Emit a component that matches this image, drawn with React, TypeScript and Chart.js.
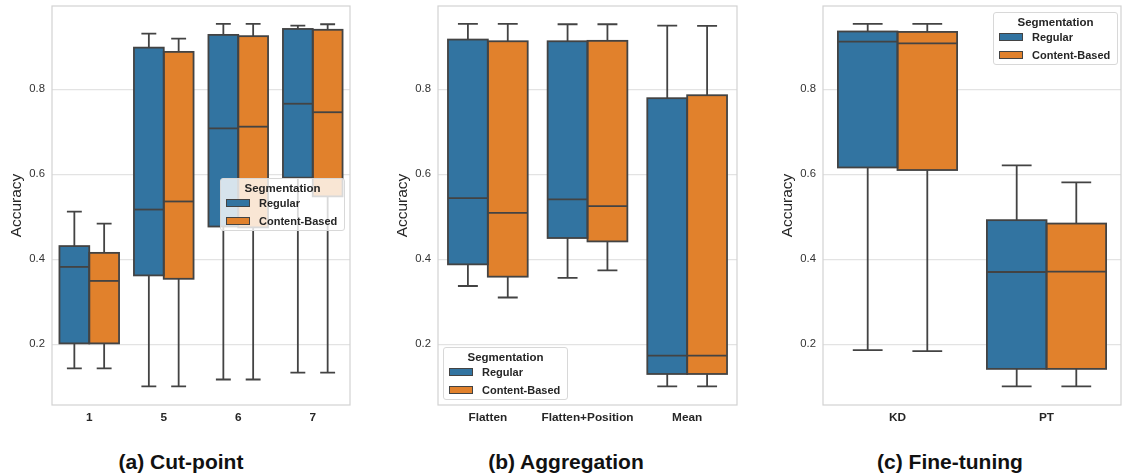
import React, { useEffect, useRef } from "react";
import { Chart, registerables } from "chart.js";

Chart.register(...registerables);

// ---------- data ----------
// each entry: [lower whisker, Q1, median, Q3, upper whisker]
const seriesNames = ["Regular", "Content-Based"];

const cutCategories = ["1", "5", "6", "7"];
const cutRegular = [
  [0.143, 0.202, 0.382, 0.431, 0.512],
  [0.101, 0.362, 0.517, 0.898, 0.931],
  [0.117, 0.477, 0.708, 0.928, 0.954],
  [0.133, 0.592, 0.766, 0.942, 0.95],
];
const cutContent = [
  [0.143, 0.202, 0.349, 0.415, 0.484],
  [0.101, 0.354, 0.536, 0.888, 0.919],
  [0.117, 0.475, 0.712, 0.925, 0.954],
  [0.133, 0.548, 0.746, 0.94, 0.953],
];

const aggCategories = ["Flatten", "Flatten+Position", "Mean"];
const aggRegular = [
  [0.337, 0.388, 0.544, 0.917, 0.954],
  [0.356, 0.45, 0.541, 0.913, 0.953],
  [0.101, 0.13, 0.173, 0.779, 0.95],
];
const aggContent = [
  [0.31, 0.359, 0.509, 0.913, 0.954],
  [0.374, 0.442, 0.525, 0.914, 0.953],
  [0.101, 0.13, 0.173, 0.786, 0.949],
];

const ftCategories = ["KD", "PT"];
const ftRegular = [
  [0.186, 0.616, 0.912, 0.936, 0.954],
  [0.101, 0.142, 0.37, 0.492, 0.621],
];
const ftContent = [
  [0.184, 0.61, 0.908, 0.935, 0.954],
  [0.101, 0.142, 0.371, 0.484, 0.581],
];

const yTickValues = [0.2, 0.4, 0.6, 0.8];
const captions = ["(a) Cut-point", "(b) Aggregation", "(c) Fine-tuning"];

// ---------- styles ----------
const FONT = "'Liberation Sans', Arial, Helvetica, sans-serif";
const BLUE = "#3274a1";
const ORANGE = "#e1812c";
const EDGE = "#434343";
const GRID = "#e3e3e3";
const SPINE = "#d2d2d2";
const Y_MIN = 0.057;
const Y_MAX = 0.996;
const LW = 1.8;

const boxPlugin = {
  id: "boxExtras",
  beforeDatasetsDraw(chart: any) {
    const { ctx, chartArea } = chart;
    ctx.save();
    ctx.strokeStyle = SPINE;
    ctx.lineWidth = 1.2;
    ctx.strokeRect(chartArea.left, chartArea.top, chartArea.width, chartArea.height);
    const ys = chart.scales.y;
    ctx.strokeStyle = EDGE;
    ctx.lineWidth = LW;
    chart.data.datasets.forEach((ds: any, i: number) => {
      const meta = chart.getDatasetMeta(i);
      meta.data.forEach((el: any, j: number) => {
        const { x, width } = el.getProps(["x", "width"], true);
        const [mn, q1, , q3, mx] = ds.stats[j];
        const half = width / 4;
        ctx.beginPath();
        ctx.moveTo(x, ys.getPixelForValue(q3));
        ctx.lineTo(x, ys.getPixelForValue(mx));
        ctx.moveTo(x - half, ys.getPixelForValue(mx));
        ctx.lineTo(x + half, ys.getPixelForValue(mx));
        ctx.moveTo(x, ys.getPixelForValue(q1));
        ctx.lineTo(x, ys.getPixelForValue(mn));
        ctx.moveTo(x - half, ys.getPixelForValue(mn));
        ctx.lineTo(x + half, ys.getPixelForValue(mn));
        ctx.stroke();
      });
    });
    ctx.restore();
  },
  afterDatasetsDraw(chart: any) {
    const { ctx } = chart;
    const ys = chart.scales.y;
    ctx.save();
    ctx.strokeStyle = EDGE;
    ctx.lineWidth = LW;
    ctx.lineJoin = "miter";
    chart.data.datasets.forEach((ds: any, i: number) => {
      const meta = chart.getDatasetMeta(i);
      meta.data.forEach((el: any, j: number) => {
        const { x, width } = el.getProps(["x", "width"], true);
        const [, q1, md, q3] = ds.stats[j];
        const y1 = ys.getPixelForValue(q1);
        const y3 = ys.getPixelForValue(q3);
        const py = ys.getPixelForValue(md);
        ctx.strokeRect(x - width / 2, y3, width, y1 - y3);
        ctx.beginPath();
        ctx.moveTo(x - width / 2, py);
        ctx.lineTo(x + width / 2, py);
        ctx.stroke();
      });
    });
    ctx.restore();
  },
};

type PanelProps = {
  left: number;
  width: number;
  rightPad: number;
  categories: string[];
  regular: number[][];
  content: number[][];
};

const CANVAS_H = 430;
const AREA_TOP = 6;
const AREA_BOTTOM = 405;
const Y_AXIS_W = 52;

function Panel({ left, width, rightPad, categories, regular, content }: PanelProps) {
  const ref = useRef<HTMLCanvasElement>(null);
  useEffect(() => {
    if (!ref.current) return;
    const mk = (label: string, stats: number[][], color: string) => ({
      label,
      stats,
      data: stats.map((s) => [s[1], s[3]]),
      backgroundColor: color,
      borderWidth: 0,
      categoryPercentage: 0.8,
      barPercentage: 1.0,
    });
    const chart = new Chart(ref.current, {
      type: "bar",
      data: {
        labels: categories,
        datasets: [mk(seriesNames[0], regular, BLUE), mk(seriesNames[1], content, ORANGE)] as any,
      },
      options: {
        animation: false,
        responsive: false,
        layout: { padding: { top: AREA_TOP, right: rightPad, left: 0, bottom: 0 } },
        plugins: { legend: { display: false }, tooltip: { enabled: false } },
        scales: {
          x: {
            type: "category",
            grid: { display: false, drawTicks: false },
            border: { display: false },
            ticks: {
              padding: 6,
              color: "#262626",
              font: { family: FONT, size: 11.8, weight: "bold" },
            },
            afterFit(scale: any) {
              scale.height = CANVAS_H - AREA_BOTTOM;
              scale.paddingLeft = 0;
              scale.paddingRight = 0;
            },
          },
          y: {
            type: "linear",
            min: Y_MIN,
            max: Y_MAX,
            grid: { color: GRID, lineWidth: 1.2, drawTicks: false },
            border: { display: false },
            afterBuildTicks(scale: any) {
              scale.ticks = yTickValues.map((v) => ({ value: v }));
            },
            ticks: {
              padding: 7,
              color: "#333333",
              font: { family: FONT, size: 11.3 },
              callback: (v: any) => Number(v).toFixed(1),
            },
            title: {
              display: true,
              text: "Accuracy",
              color: "#262626",
              font: { family: FONT, size: 15.5 },
              padding: { top: 7.7, bottom: 0 },
            },
            afterFit(scale: any) {
              scale.width = Y_AXIS_W;
              scale.paddingTop = 0;
              scale.paddingBottom = 0;
            },
          },
        },
      } as any,
      plugins: [boxPlugin],
    });
    return () => chart.destroy();
  }, []);
  return (
    <div style={{ position: "absolute", left, top: 0, width, height: CANVAS_H }}>
      <canvas ref={ref} width={width} height={CANVAS_H} style={{ display: "block" }} />
    </div>
  );
}

function Legend({ left, top }: { left: number; top: number }) {
  const row = (label: string, color: string, cy: number) => (
    <>
      <div
        style={{
          position: "absolute",
          left: 5,
          top: cy - 4,
          width: 24,
          height: 8,
          background: color,
          border: `1px solid ${EDGE}`,
          boxSizing: "border-box",
        }}
      />
      <div style={{ position: "absolute", left: 38, top: cy - 7, lineHeight: "14px", whiteSpace: "nowrap" }}>{label}</div>
    </>
  );
  return (
    <div
      style={{
        position: "absolute",
        left,
        top,
        width: 125,
        height: 53,
        background: "rgba(255,255,255,0.8)",
        border: "1px solid #d8d8d8",
        borderRadius: 3,
        boxSizing: "border-box",
        fontFamily: FONT,
        fontSize: 11,
        fontWeight: "bold",
        color: "#262626",
      }}
    >
      <div style={{ position: "absolute", left: 0, right: 0, top: 2, lineHeight: "14px", textAlign: "center", fontSize: 11.5 }}>
        Segmentation
      </div>
      {row(seriesNames[0], BLUE, 24)}
      {row(seriesNames[1], ORANGE, 42)}
    </div>
  );
}

function Caption({ cx, text }: { cx: number; text: string }) {
  return (
    <div
      style={{
        position: "absolute",
        left: cx - 150,
        width: 300,
        top: 449,
        lineHeight: "26px",
        textAlign: "center",
        fontFamily: FONT,
        fontSize: 21,
        fontWeight: "bold",
        color: "#111111",
      }}
    >
      {text}
    </div>
  );
}

export default function App() {
  return (
    <div style={{ position: "absolute", left: 0, top: 0, width: 1122, height: 476, background: "#ffffff", overflow: "hidden" }}>
      <Panel left={0} width={360} rightPad={10} categories={cutCategories} regular={cutRegular} content={cutContent} />
      <Panel left={386} width={361} rightPad={10} categories={aggCategories} regular={aggRegular} content={aggContent} />
      <Panel left={771} width={351} rightPad={1} categories={ftCategories} regular={ftRegular} content={ftContent} />
      <Legend left={220} top={178} />
      <Legend left={443} top={347} />
      <Legend left={993} top={12} />
      <Caption cx={181} text={captions[0]} />
      <Caption cx={566} text={captions[1]} />
      <Caption cx={950} text={captions[2]} />
    </div>
  );
}
